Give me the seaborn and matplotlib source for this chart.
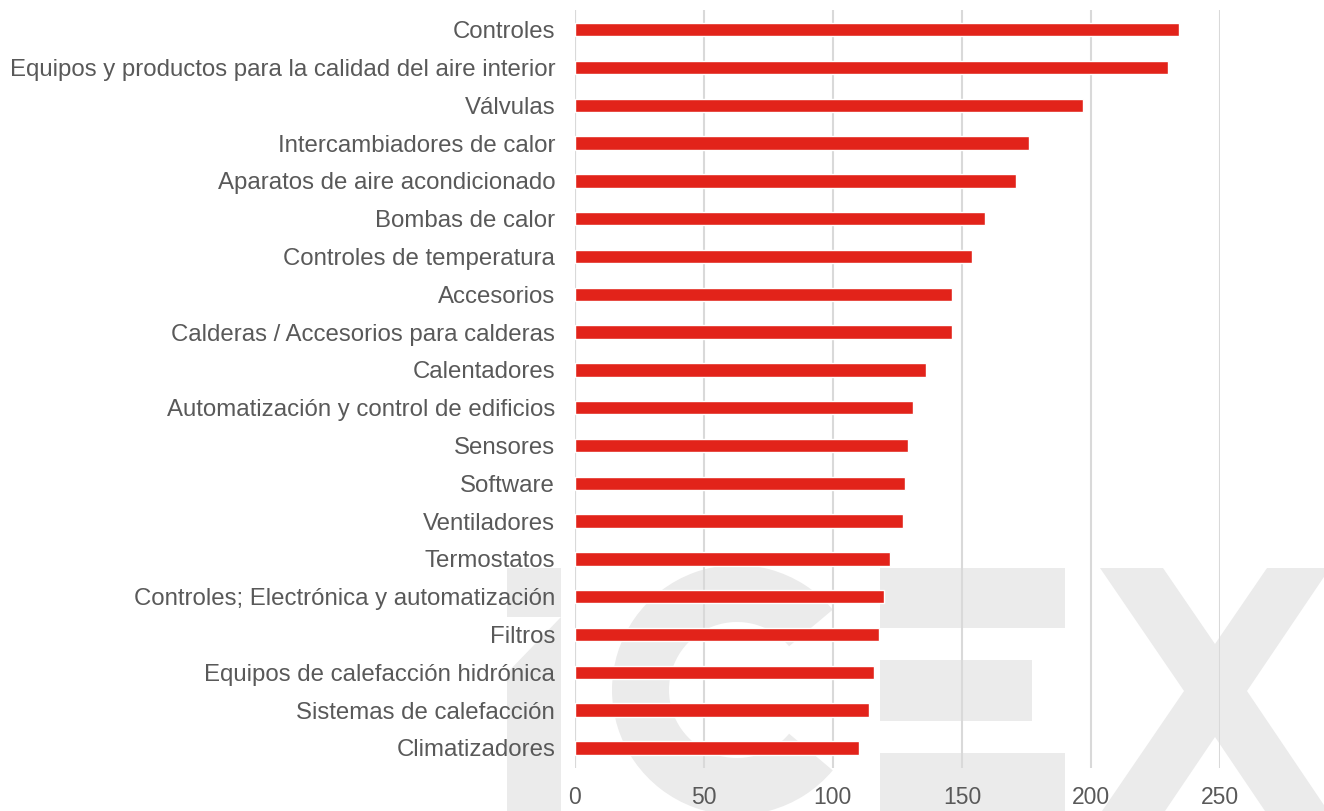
import pandas as pd
import matplotlib
matplotlib.use("Agg")
import matplotlib.pyplot as plt
from matplotlib.patches import Polygon, Rectangle, Wedge
import seaborn as sns

# Categories (top to bottom) and their values
categorias = [
    "Controles",
    "Equipos y productos para la calidad del aire interior",
    "Válvulas",
    "Intercambiadores de calor",
    "Aparatos de aire acondicionado",
    "Bombas de calor",
    "Controles de temperatura",
    "Accesorios",
    "Calderas / Accesorios para calderas",
    "Calentadores",
    "Automatización y control de edificios",
    "Sensores",
    "Software",
    "Ventiladores",
    "Termostatos",
    "Controles; Electrónica y automatización",
    "Filtros",
    "Equipos de calefacción hidrónica",
    "Sistemas de calefacción",
    "Climatizadores",
]
valores = [234, 230, 197, 176, 171, 159, 154, 146, 146, 136,
           131, 129, 128, 127, 122, 120, 118, 116, 114, 110]
ticks_x = [0, 50, 100, 150, 200, 250]

sns.set_style("white")
plt.rcParams["font.family"] = ["Liberation Sans", "DejaVu Sans"]

data = pd.DataFrame({"categoria": categorias, "valor": valores})

fig = plt.figure(figsize=(13.24, 8.11), dpi=100)

# background axes in pixel units for the ICEX watermark logo
bg = fig.add_axes([0, 0, 1, 1], zorder=0)
bg.set_xlim(0, 1324)
bg.set_ylim(811, 0)
bg.axis("off")
wm = "#ebebeb"
# I (with the slanted cut)
bg.add_patch(Rectangle((507, 568), 54, 49, color=wm, lw=0))
bg.add_patch(Polygon([(561, 617), (561, 815), (507, 815), (507, 673)], color=wm, lw=0))
# C
bg.add_patch(Wedge((737, 690), 125, 40, 320, width=57, color=wm, lw=0))
# E as three bars
bg.add_patch(Rectangle((880, 568), 185, 60, color=wm, lw=0))
bg.add_patch(Rectangle((880, 660), 152, 61, color=wm, lw=0))
bg.add_patch(Rectangle((880, 753), 185, 62, color=wm, lw=0))
# X
bg.add_patch(Polygon([(1100, 568), (1163, 568), (1215, 644), (1267, 568), (1330, 568),
                      (1247, 691), (1330, 814), (1267, 814), (1215, 737), (1163, 814),
                      (1100, 814), (1184, 691)], color=wm, lw=0))

ax = fig.add_axes([0.434, 0.053, 0.4875, 0.935], zorder=1)
ax.patch.set_alpha(0)

sns.barplot(data=data, x="valor", y="categoria", orient="h",
            color="#e2231a", saturation=1, width=0.355, ax=ax, zorder=3)

ax.set_xlim(0, 250)
ax.set_ylim(len(categorias) - 0.47, -0.53)
ax.set_xticks(ticks_x)
ax.xaxis.grid(True, color="#d9d9d9", linewidth=1.5)
ax.set_axisbelow(True)
for s in ax.spines.values():
    s.set_visible(False)
ax.axvline(0, color="#d9d9d9", linewidth=1.5, zorder=1)

ax.set_xlabel("")
ax.set_ylabel("")
ax.tick_params(axis="y", length=0, pad=14, labelsize=17.3, labelcolor="#595959")
ax.tick_params(axis="x", length=0, pad=13, labelsize=16.5, labelcolor="#595959")

fig.savefig("out.png", dpi=100)
